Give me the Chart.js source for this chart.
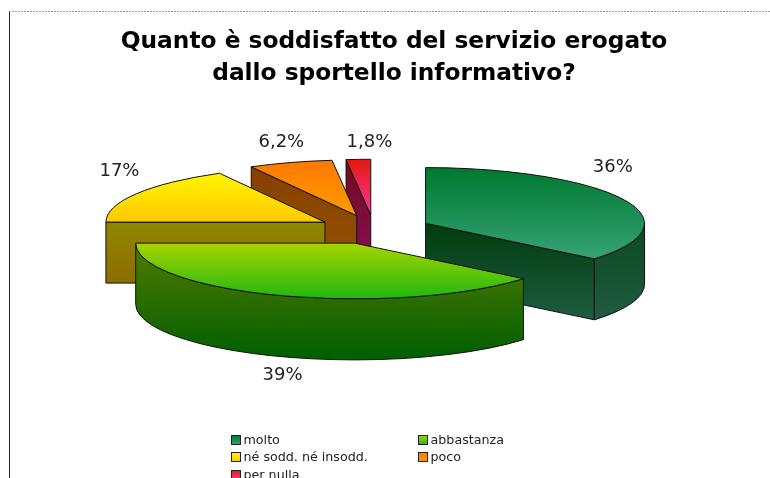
<!DOCTYPE html>
<html lang="it">
<head>
<meta charset="utf-8">
<title>Sportello informativo</title>
<script src="https://cdn.jsdelivr.net/npm/chart.js@4"></script>
<style>
    html, body { margin: 0; padding: 0; background: #fff; overflow: hidden; }
    #wrap { position: relative; width: 770px; height: 478px; }
</style>
</head>
<body>
<div id="wrap"><canvas id="pie" width="770" height="478"></canvas></div>
<script>
const categories = ['molto', 'abbastanza', 'né sodd. né insodd.', 'poco', 'per nulla'];
const values = [36, 39, 17, 6.2, 1.8];
const valueLabels = ['36%', '39%', '17%', '6,2%', '1,8%'];
const titleLines = ['Quanto è soddisfatto del servizio erogato', 'dallo sportello informativo?'];

// gradient stops, top to bottom
const topColors = [
    ['#00782f', '#36a376'],
    ['#a8d400', '#1fb80f'],
    ['#fff500', '#ffc800'],
    ['#ff7800', '#ff9e00'],
    ['#e01a10', '#ff3399']
];
const wallColors = [
    ['#003c0c', '#1f5c42'],
    ['#527a00', '#005f00'],
    ['#918700', '#8c6c00'],
    ['#873f00', '#935500'],
    ['#72091e', '#8c1058']
];

const RADIUS = 219;
const EXPLODE = 57;
const SQUASH = 0.2545;
const DEPTH = 61;
const PIE_SHIFT_X = -20;   // the title is centred a little right of the pie

// label nudges from the rim point of each slice
const labelNudge = [[-11, -32], [2, 80], [-17, -22], [-9, -20], [11, -17]];

const LEGEND_FONT = '12.7px "DejaVu Sans"';
const legendCols = [231, 418];
const legendRows = [440, 457, 475];

function sliceGeometry(arc) {
    const mid = (arc.startAngle + arc.endAngle) / 2;
    const ry = RADIUS * SQUASH;
    const cx = arc.x + PIE_SHIFT_X + Math.cos(mid) * EXPLODE;
    const cy = arc.y + Math.sin(mid) * EXPLODE * SQUASH;
    const rim = a => ({ x: cx + RADIUS * Math.cos(a), y: cy + ry * Math.sin(a) });
    return { mid, ry, cx, cy, rim, start: arc.startAngle, end: arc.endAngle };
}

function vertical(ctx, y0, y1, stops) {
    const g = ctx.createLinearGradient(0, y0, 0, y1);
    g.addColorStop(0, stops[0]);
    g.addColorStop(1, stops[1]);
    return g;
}

// y extent of the top face, needed for the gradients
function faceExtent(s) {
    const ys = [s.cy, s.rim(s.start).y, s.rim(s.end).y];
    [-Math.PI / 2, Math.PI / 2].forEach(a => {
        if (a > s.start && a < s.end) ys.push(s.rim(a).y);
    });
    return [Math.min(...ys), Math.max(...ys)];
}

function paintPath(ctx, fill) {
    ctx.fillStyle = fill;
    ctx.fill();
    ctx.stroke();
}

function drawCutFace(ctx, s, angle, fill) {
    const p = s.rim(angle);
    ctx.beginPath();
    ctx.moveTo(s.cx, s.cy);
    ctx.lineTo(p.x, p.y);
    ctx.lineTo(p.x, p.y + DEPTH);
    ctx.lineTo(s.cx, s.cy + DEPTH);
    ctx.closePath();
    paintPath(ctx, fill);
}

function drawSlice(ctx, arc, i) {
    const s = sliceGeometry(arc);
    const [y0, y1] = faceExtent(s);
    const wall = vertical(ctx, y0, y1 + DEPTH, wallColors[i]);

    // only faces turned toward the viewer get painted
    if (Math.cos(s.start) < -1e-6) drawCutFace(ctx, s, s.start, vertical(ctx, Math.min(s.cy, s.rim(s.start).y), Math.max(s.cy, s.rim(s.start).y) + DEPTH, wallColors[i]));
    if (Math.cos(s.end) > 1e-6) drawCutFace(ctx, s, s.end, vertical(ctx, s.cy, s.rim(s.end).y + DEPTH, wallColors[i]));

    const from = Math.max(s.start, 0);
    const to = Math.min(s.end, Math.PI);
    if (to > from) {
        ctx.beginPath();
        ctx.ellipse(s.cx, s.cy, RADIUS, s.ry, 0, from, to);
        ctx.ellipse(s.cx, s.cy + DEPTH, RADIUS, s.ry, 0, to, from, true);
        ctx.closePath();
        paintPath(ctx, wall);
    }

    ctx.beginPath();
    ctx.moveTo(s.cx, s.cy);
    ctx.ellipse(s.cx, s.cy, RADIUS, s.ry, 0, s.start, s.end);
    ctx.closePath();
    paintPath(ctx, vertical(ctx, y0, y1, topColors[i]));
}

const pie3d = {
    id: 'pie3d',
    beforeDraw(chart) {
        const ctx = chart.ctx;
        ctx.save();
        ctx.lineWidth = 1;
        ctx.strokeStyle = '#222';
        ctx.beginPath();
        ctx.moveTo(9.5, 12);
        ctx.lineTo(9.5, 478);
        ctx.stroke();
        ctx.strokeStyle = '#999';
        ctx.setLineDash([2, 1]);
        ctx.beginPath();
        ctx.moveTo(9, 11.5);
        ctx.lineTo(770, 11.5);
        ctx.stroke();
        ctx.restore();
    },
    beforeDatasetDraw(chart, args) {
        const ctx = chart.ctx;
        const arcs = args.meta.data;
        ctx.save();
        ctx.lineWidth = 1;
        ctx.lineJoin = 'round';
        ctx.strokeStyle = '#111';
        // back slices first, so the front ones cover them
        const order = arcs.map((a, i) => i).sort((p, q) => {
            const mp = (arcs[p].startAngle + arcs[p].endAngle) / 2;
            const mq = (arcs[q].startAngle + arcs[q].endAngle) / 2;
            return Math.sin(mp) - Math.sin(mq);
        });
        order.forEach(i => drawSlice(ctx, arcs[i], i));
        ctx.restore();
        return false;
    },
    afterDatasetsDraw(chart) {
        const ctx = chart.ctx;
        const arcs = chart.getDatasetMeta(0).data;
        ctx.save();
        ctx.fillStyle = '#222';
        ctx.font = '18px "DejaVu Sans"';
        ctx.textAlign = 'center';
        ctx.textBaseline = 'middle';
        arcs.forEach((arc, i) => {
            const s = sliceGeometry(arc);
            const p = s.rim(s.mid);
            ctx.fillText(valueLabels[i], p.x + labelNudge[i][0], p.y + labelNudge[i][1]);
        });

        // two-column legend, filled row by row
        ctx.textAlign = 'left';
        ctx.font = LEGEND_FONT;
        categories.forEach((name, i) => {
            const x = legendCols[i % 2];
            const y = legendRows[Math.floor(i / 2)];
            ctx.fillStyle = vertical(ctx, y - 5, y + 5, topColors[i]);
            ctx.strokeStyle = '#222';
            ctx.fillRect(x, y - 5, 10, 10);
            ctx.strokeRect(x + 0.5, y - 4.5, 9, 9);
            ctx.fillStyle = '#222';
            ctx.fillText(name, x + 12.5, y + 1);
        });
        ctx.restore();
    }
};

new Chart(document.getElementById('pie'), {
    type: 'pie',
    data: {
        labels: categories,
        datasets: [{
            data: values,
            offset: EXPLODE,
            borderWidth: 1
        }]
    },
    plugins: [pie3d],
    options: {
        responsive: false,
        animation: false,
        radius: RADIUS,
        layout: { padding: { left: 18, top: 26, right: 0, bottom: 115 } },
        plugins: {
            legend: { display: false },
            tooltip: { enabled: false },
            title: {
                display: true,
                text: titleLines,
                color: '#000',
                font: { family: '"DejaVu Sans"', size: 23.3, weight: 'bold', lineHeight: 1.373 },
                padding: { top: 0, bottom: 6 }
            }
        }
    }
});
</script>
</body>
</html>
